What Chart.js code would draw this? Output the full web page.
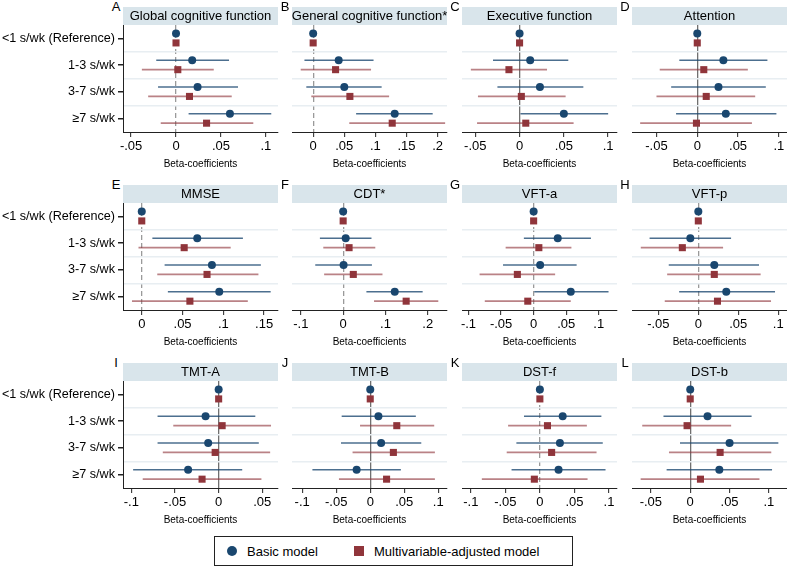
<!DOCTYPE html>
<html><head><meta charset="utf-8">
<script src="https://cdn.jsdelivr.net/npm/chart.js@4.4.1/dist/chart.umd.min.js"></script>
<style>
html,body{margin:0;padding:0;background:#fff;overflow:hidden;width:787px;height:574px;}
#wrap{position:relative;width:787px;height:574px;font-family:"Liberation Sans",Arial,sans-serif;overflow:hidden;}
canvas{position:absolute;}
.letter{position:absolute;font-size:13px;line-height:13px;width:16px;text-align:center;color:#000;}
#legend{position:absolute;left:214px;top:536px;width:359px;height:30px;border:1px solid #222;box-sizing:border-box;font-size:13px;color:#000;}
#legend .mk{position:absolute;top:9px;width:10px;height:10px;}
#legend .tx{position:absolute;top:7px;line-height:15px;white-space:nowrap;}
</style></head>
<body><div id="wrap">
<div id="legend">
 <div class="mk" style="left:12px;border-radius:50%;background:#1a476f"></div><div class="tx" style="left:32px">Basic model</div>
 <div class="mk" style="left:139px;background:#90353b"></div><div class="tx" style="left:159px">Multivariable-adjusted model</div>
</div>
</div>
<script>
// ---------- data ----------
const categories = ["<1 s/wk (Reference)", "1-3 s/wk", "3-7 s/wk", "\u22657 s/wk"];
const panelTitles = ["Global cognitive function", "General cognitive function*", "Executive function", "Attention",
                     "MMSE", "CDT*", "VFT-a", "VFT-p", "TMT-A", "TMT-B", "DST-f", "DST-b"];
const panelLetters = ["A","B","C","D","E","F","G","H","I","J","K","L"];
// rows: [beta, lower CI, upper CI]
const A_basic = [[0,0,0],[0.018,-0.022,0.059],[0.024,-0.020,0.069],[0.060,0.014,0.106]];
const A_adj   = [[0,0,0],[0.002,-0.038,0.042],[0.015,-0.031,0.062],[0.034,-0.017,0.086]];
const B_basic = [[0,0,0],[0.041,-0.014,0.097],[0.050,-0.011,0.110],[0.131,0.069,0.192]];
const B_adj   = [[0,0,0],[0.036,-0.020,0.093],[0.059,-0.003,0.122],[0.127,0.058,0.212]];
const C_basic = [[0,0,0],[0.012,-0.030,0.055],[0.023,-0.025,0.072],[0.050,0.001,0.100]];
const C_adj   = [[0,0,0],[-0.012,-0.055,0.031],[0.002,-0.047,0.052],[0.007,-0.048,0.061]];
const D_basic = [[0,0,0],[0.032,-0.022,0.086],[0.026,-0.032,0.084],[0.035,-0.026,0.097]];
const D_adj   = [[0,0,0],[0.008,-0.046,0.062],[0.011,-0.050,0.071],[-0.001,-0.070,0.067]];
const E_basic = [[0,0,0],[0.068,0.013,0.124],[0.086,0.028,0.146],[0.095,0.032,0.158]];
const E_adj   = [[0,0,0],[0.052,-0.004,0.109],[0.080,0.019,0.143],[0.059,-0.012,0.130]];
const F_basic = [[0,0,0],[0.006,-0.055,0.067],[0.001,-0.066,0.068],[0.122,0.055,0.188]];
const F_adj   = [[0,0,0],[0.014,-0.047,0.076],[0.024,-0.045,0.093],[0.149,0.073,0.225]];
const G_basic = [[0,0,0],[0.037,-0.015,0.088],[0.010,-0.047,0.066],[0.057,0.001,0.115]];
const G_adj   = [[0,0,0],[0.008,-0.043,0.058],[-0.025,-0.083,0.033],[-0.009,-0.075,0.057]];
const H_basic = [[0,0,0],[-0.010,-0.061,0.041],[0.020,-0.037,0.076],[0.035,-0.024,0.096]];
const H_adj   = [[0,0,0],[-0.020,-0.072,0.031],[0.020,-0.039,0.078],[0.024,-0.042,0.091]];
const I_basic = [[0,0,0],[-0.015,-0.070,0.042],[-0.012,-0.070,0.046],[-0.035,-0.098,0.027]];
const I_adj   = [[0,0,0],[0.004,-0.052,0.060],[-0.004,-0.064,0.059],[-0.019,-0.087,0.049]];
const J_basic = [[0,0,0],[0.012,-0.042,0.067],[0.016,-0.043,0.075],[-0.020,-0.085,0.045]];
const J_adj   = [[0,0,0],[0.039,-0.015,0.094],[0.034,-0.026,0.095],[0.024,-0.046,0.095]];
const K_basic = [[0,0,0],[0.033,-0.023,0.089],[0.029,-0.034,0.091],[0.027,-0.041,0.095]];
const K_adj   = [[0,0,0],[0.011,-0.046,0.068],[0.017,-0.048,0.082],[-0.008,-0.084,0.069]];
const L_basic = [[0,0,0],[0.022,-0.034,0.078],[0.050,-0.013,0.112],[0.037,-0.030,0.104]];
const L_adj   = [[0,0,0],[-0.004,-0.061,0.052],[0.038,-0.027,0.103],[0.013,-0.063,0.088]];
// x tick values per panel
const A_ticks = [-0.05, 0, 0.05, 0.1];
const B_ticks = [0, 0.05, 0.1, 0.15, 0.2];
const C_ticks = [-0.05, 0, 0.05, 0.1];
const D_ticks = [-0.05, 0, 0.05, 0.1];
const E_ticks = [0, 0.05, 0.1, 0.15];
const F_ticks = [-0.1, 0, 0.1, 0.2];
const G_ticks = [-0.1, -0.05, 0, 0.05, 0.1];
const H_ticks = [-0.05, 0, 0.05, 0.1];
const I_ticks = [-0.1, -0.05, 0, 0.05];
const J_ticks = [-0.1, -0.05, 0, 0.05, 0.1];
const K_ticks = [-0.1, -0.05, 0, 0.05, 0.1];
const L_ticks = [-0.05, 0, 0.05, 0.1];
// axis ranges
const axisRanges = [[-0.059,0.1135],[-0.034,0.215],[-0.065,0.110],[-0.080,0.110],
                    [-0.023,0.167],[-0.121,0.2456],[-0.110,0.128],[-0.083,0.111],
                    [-0.1096,0.068],[-0.115,0.1128],[-0.1127,0.1116],[-0.074,0.123]];
const dashedZero = [true,true,false,false,true,true,true,true,false,false,true,false];

const basicSets = [A_basic,B_basic,C_basic,D_basic,E_basic,F_basic,G_basic,H_basic,I_basic,J_basic,K_basic,L_basic];
const adjSets = [A_adj,B_adj,C_adj,D_adj,E_adj,F_adj,G_adj,H_adj,I_adj,J_adj,K_adj,L_adj];
const tickSets = [A_ticks,B_ticks,C_ticks,D_ticks,E_ticks,F_ticks,G_ticks,H_ticks,I_ticks,J_ticks,K_ticks,L_ticks];

// ---------- style ----------
const FONT = '"Liberation Sans", Arial, sans-serif';
Chart.defaults.font.family = FONT;
const blue = '#1a476f', red = '#90353b';
const blueLine = 'rgba(26,71,111,0.78)', redLine = 'rgba(144,53,59,0.62)';
const stripCol = '#d9e5eb', sepCol = '#e8eef2';
const plotLefts = [123, 292, 462, 632];
const plotW = 155, barTops = [7, 185, 363], barH = 18, plotH = 107, axisH = 41, padX = 16;
const offB = -0.18, offA = 0.17;
const yTickVals = [0, 0.5, 1, 1.5, 2, 2.5, 3];

function fmt(v) {
  if (Math.abs(v) < 1e-12) return '0';
  return (v < 0 ? '-' : '') + String(+Math.abs(v).toFixed(3)).replace(/^0/, '');
}

const stripPlugin = {
  id: 'strip',
  beforeDraw(chart, args, opts) {
    const {ctx, chartArea: a} = chart;
    ctx.save();
    ctx.fillStyle = stripCol;
    ctx.fillRect(a.left, a.top - barH, a.right - a.left, barH);
    ctx.fillStyle = '#000';
    ctx.font = '13px ' + FONT;
    ctx.textAlign = 'center';
    ctx.textBaseline = 'middle';
    ctx.fillText(opts.title, (a.left + a.right) / 2, a.top - barH / 2 + 0.5);
    ctx.restore();
  }
};

const wrap = document.getElementById('wrap');

panelTitles.forEach((title, idx) => {
  const col = idx % 4, row = Math.floor(idx / 4);
  const first = col === 0;
  const left = first ? 0 : plotLefts[col] - padX;
  const width = first ? plotLefts[0] + plotW + padX : plotW + 2 * padX;
  const top = barTops[row];
  const height = barH + plotH + axisH;

  const letter = document.createElement('div');
  letter.className = 'letter';
  letter.textContent = panelLetters[idx];
  letter.style.left = (plotLefts[col] - 15) + 'px';
  letter.style.top = (top - 7) + 'px';
  wrap.appendChild(letter);

  const cv = document.createElement('canvas');
  cv.width = width; cv.height = height;
  cv.style.left = left + 'px'; cv.style.top = top + 'px';
  cv.style.width = width + 'px'; cv.style.height = height + 'px';
  wrap.appendChild(cv);

  const basic = basicSets[idx], adj = adjSets[idx];
  const datasets = [];
  for (let i = 1; i < categories.length; i++) {
    datasets.push({data: [{x: basic[i][1], y: i + offB}, {x: basic[i][2], y: i + offB}],
      showLine: true, borderColor: blueLine, borderWidth: 1.6, pointRadius: 0});
    datasets.push({data: [{x: adj[i][1], y: i + offA}, {x: adj[i][2], y: i + offA}],
      showLine: true, borderColor: redLine, borderWidth: 1.6, pointRadius: 0});
  }
  datasets.push({data: basic.map((r, i) => ({x: r[0], y: i + offB})), pointStyle: 'circle',
    pointRadius: 4, backgroundColor: blue, borderWidth: 0});
  datasets.push({data: adj.map((r, i) => ({x: r[0], y: i + offA})), pointStyle: 'rect',
    pointRadius: 5, backgroundColor: red, borderWidth: 0});

  const ticks = tickSets[idx];
  new Chart(cv, {
    type: 'scatter',
    data: {datasets},
    plugins: [stripPlugin],
    options: {
      responsive: false, animation: false, devicePixelRatio: 1, events: [],
      layout: {padding: {top: barH, left: first ? 0 : padX, right: padX, bottom: 0}},
      plugins: {legend: {display: false}, tooltip: {enabled: false}, strip: {title}},
      scales: {
        x: {
          type: 'linear', min: axisRanges[idx][0], max: axisRanges[idx][1],
          afterBuildTicks: s => { s.ticks = ticks.map(v => ({value: v})); },
          afterFit: s => { s.height = axisH; s.paddingLeft = 0; s.paddingRight = 0; },
          ticks: {autoSkip: false, maxRotation: 0, minRotation: 0, padding: 2, color: '#000',
                  font: {size: 13}, callback: v => fmt(v)},
          grid: {color: c => (c.tick && Math.abs(c.tick.value) < 1e-12) ? (dashedZero[idx] ? '#9a9a9a' : '#707070') : 'transparent',
                 lineWidth: 1.3, tickLength: 5, tickColor: '#222', tickWidth: 1},
          border: {display: true, color: '#222', width: 1, dash: dashedZero[idx] ? [5, 3] : []},
          title: {display: true, text: 'Beta-coefficients', color: '#000', font: {size: 10}, padding: {top: 0, bottom: 3}}
        },
        y: {
          type: 'linear', reverse: true, min: -0.5, max: 3.5,
          afterBuildTicks: s => { s.ticks = yTickVals.map(v => ({value: v})); },
          afterFit: s => { s.width = first ? plotLefts[0] : 0; },
          ticks: {display: first, autoSkip: false, padding: 3, color: '#000', font: {size: 12.6},
                  callback: v => Number.isInteger(v) ? categories[v] : ''},
          grid: {color: c => (c.tick && !Number.isInteger(c.tick.value)) ? sepCol : 'transparent',
                 lineWidth: 1.5, drawTicks: first, tickLength: 5,
                 tickColor: c => (c.tick && Number.isInteger(c.tick.value)) ? '#222' : 'transparent'},
          border: {display: first, color: '#222', width: 1}
        }
      }
    }
  });
});
</script>
</body></html>
